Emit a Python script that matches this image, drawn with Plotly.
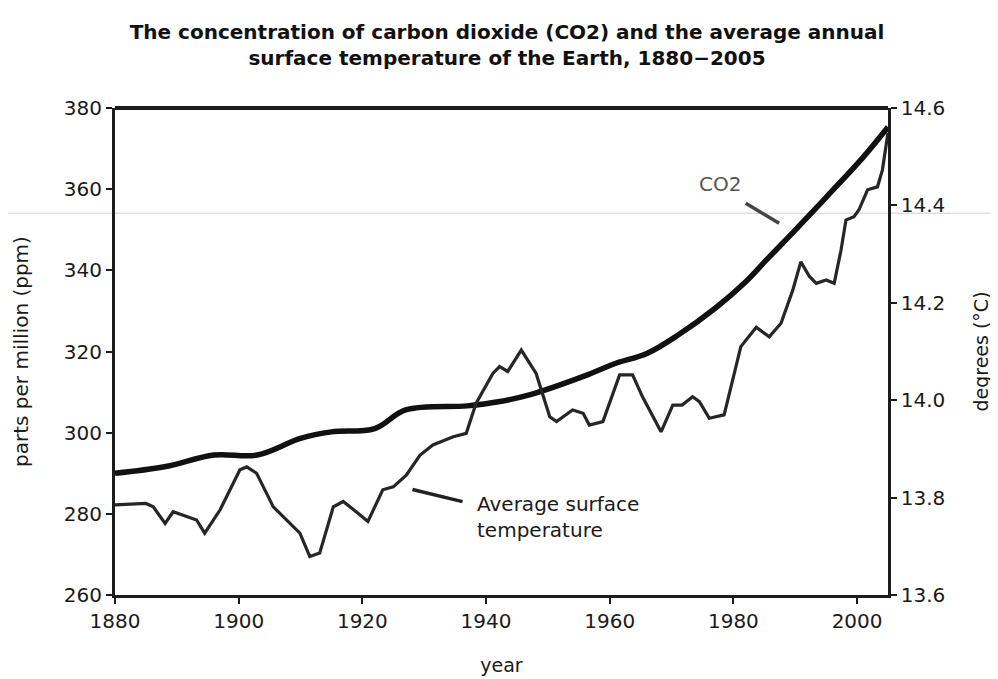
import plotly.graph_objects as go

# CO2 concentration (ppm)
co2_years = [1880, 1888, 1896, 1903, 1910, 1915, 1922, 1927, 1937, 1942, 1947, 1956.5, 1961, 1966, 1971, 1977, 1982, 1985.3, 1990, 1995, 2001, 2005]
co2_ppm = [290.0, 291.6, 294.5, 294.5, 298.6, 300.2, 301.0, 305.6, 306.6, 307.6, 309.3, 314.3, 317.1, 319.5, 324.0, 330.6, 337.2, 342.5, 349.9, 358.0, 367.9, 375.3]

# Average surface temperature (deg C)
temp_years = [1880, 1885, 1886.2, 1888.1, 1889.4, 1891, 1893.2, 1894.5, 1897, 1900.2, 1901.3, 1902.9, 1905.6, 1908.3,
              1909.9, 1911.5, 1913.1, 1915.3, 1916.9, 1919, 1920.9, 1923.3, 1925, 1927.1, 1929.3, 1931.4, 1934.7,
              1936.8, 1938.4, 1941.1, 1942.2, 1943.5, 1945.7, 1948.1, 1950.3, 1951.4, 1954, 1955.7, 1956.7, 1958.9,
              1961.6, 1963.7, 1965.3, 1968.3, 1970.2, 1971.7, 1973.4, 1974.5, 1976.1, 1978.5, 1981.2, 1983.7,
              1985.8, 1987.7, 1989.6, 1990.9, 1992.3, 1993.4, 1995, 1996.3, 1997.4, 1998.2, 1999.5, 2000.3,
              2001.7, 2003.3, 2004.1, 2005]
temp_c = [13.785, 13.788, 13.781, 13.747, 13.771, 13.764, 13.754, 13.727, 13.775, 13.857, 13.863, 13.850, 13.781, 13.747,
          13.727, 13.679, 13.686, 13.781, 13.792, 13.771, 13.751, 13.816, 13.822, 13.846, 13.887, 13.908, 13.925,
          13.932, 13.994, 14.055, 14.069, 14.059, 14.103, 14.055, 13.966, 13.956, 13.980, 13.973, 13.949, 13.956,
          14.052, 14.052, 14.007, 13.935, 13.990, 13.990, 14.007, 13.997, 13.963, 13.970, 14.110, 14.150,
          14.130, 14.158, 14.226, 14.284, 14.254, 14.240, 14.247, 14.240, 14.308, 14.370, 14.377, 14.391,
          14.432, 14.438, 14.473, 14.549]

x_ticks = [1880, 1900, 1920, 1940, 1960, 1980, 2000]
y_ticks = [260, 280, 300, 320, 340, 360, 380]
y2_ticks = [13.6, 13.8, 14.0, 14.2, 14.4, 14.6]

FONT = "DejaVu Sans, Verdana, sans-serif"
INK = "#1c1c1c"

fig = go.Figure()
fig.add_trace(go.Scatter(x=temp_years, y=temp_c, mode="lines", yaxis="y2",
                         line=dict(color="#262626", width=3.2), name="Average surface temperature",
                         showlegend=False))
fig.add_trace(go.Scatter(x=co2_years, y=co2_ppm, mode="lines", line=dict(color="#111111", width=5.5, shape="spline"),
                         name="CO2", showlegend=False))

fig.update_layout(
    width=998, height=679,
    margin=dict(l=107, r=118, t=100, b=92),
    paper_bgcolor="white", plot_bgcolor="white",
    font=dict(family=FONT, color="#1a1a1a", size=19),
    title=dict(text="<b>The concentration of carbon dioxide (CO2) and the average annual<br>surface temperature of the Earth, 1880\u22122005</b>",
               x=0.5, xanchor="center", y=0.955, yanchor="top",
               font=dict(family=FONT, size=20, color="#111")),
    xaxis=dict(range=[1880, 2005], tickvals=x_ticks, ticks="outside", ticklen=6, tickwidth=2,
               tickcolor=INK, showline=True, linewidth=3, linecolor=INK, showgrid=False, zeroline=False,
               title=dict(text="year", font=dict(size=19), standoff=27), tickfont=dict(size=20)),
    yaxis=dict(range=[260, 380], tickvals=y_ticks, ticks="outside", ticklen=6, tickwidth=2,
               tickcolor=INK, showline=True, linewidth=3, linecolor=INK, showgrid=False, zeroline=False,
               title=dict(text="parts per million (ppm)", font=dict(size=20), standoff=30), tickfont=dict(size=20)),
    yaxis2=dict(range=[13.6, 14.6], tickvals=y2_ticks, tickformat=".1f", overlaying="y", side="right",
                ticks="outside", ticklen=6, tickwidth=2, tickcolor=INK, showline=True, linewidth=2.5,
                linecolor=INK, showgrid=False, zeroline=False,
                title=dict(text="degrees (\u00b0C)", font=dict(size=19), standoff=31), tickfont=dict(size=20)),
)

# top frame line
fig.add_shape(type="line", xref="paper", yref="paper", x0=0, x1=1, y0=1, y1=1,
              line=dict(color=INK, width=4))
# faint scan line across the page
fig.add_shape(type="line", xref="paper", yref="paper", x0=-0.15, x1=1.15, y0=0.784, y1=0.784,
              line=dict(color="#d0d0d0", width=1), layer="below")

# CO2 label and leader
fig.add_annotation(x=1977.9, y=361.2, xref="x", yref="y", text="CO2", showarrow=False,
                   font=dict(size=20, color="#555"))
fig.add_shape(type="line", xref="x", yref="y", x0=1982.0, y0=356.5, x1=1987.4, y1=351.6,
              line=dict(color="#444", width=3.5))

# temperature label and leader
fig.add_annotation(x=1938.2, y=279.2, xref="x", yref="y", text="Average surface<br>temperature",
                   showarrow=False, xanchor="left", align="left", font=dict(size=20, color="#1a1a1a"))
fig.add_shape(type="line", xref="x", yref="y", x0=1928.1, y0=286.0, x1=1936.2, y1=283.0,
              line=dict(color="#222", width=3.5))

fig.write_html("out.html")
